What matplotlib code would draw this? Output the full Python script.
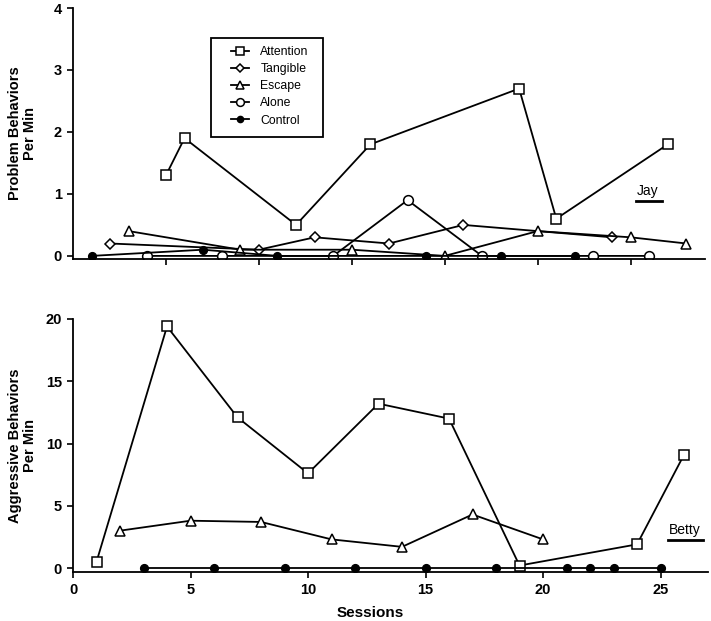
import matplotlib
matplotlib.use("Agg")
import matplotlib.pyplot as plt
from matplotlib.lines import Line2D
from matplotlib.patches import Rectangle

plt.rcParams['font.family'] = ['Liberation Sans', 'DejaVu Sans']

# ---- Jay (top panel) ----
jay_att_x = [5, 6, 12, 16, 24, 26, 32]
jay_att_y = [1.3, 1.9, 0.5, 1.8, 2.7, 0.6, 1.8]
jay_tan_x = [2, 10, 13, 17, 21, 29]
jay_tan_y = [0.2, 0.1, 0.3, 0.2, 0.5, 0.3]
jay_esc_x = [3, 9, 15, 20, 25, 30, 33]
jay_esc_y = [0.4, 0.1, 0.1, 0.0, 0.4, 0.3, 0.2]
jay_alo_x = [4, 8, 14, 18, 22, 28, 31]
jay_alo_y = [0.0, 0.0, 0.0, 0.9, 0.0, 0.0, 0.0]
jay_con_x = [1, 7, 11, 19, 23, 27]
jay_con_y = [0.0, 0.1, 0.0, 0.0, 0.0, 0.0]

# ---- Betty (bottom panel) ----
bet_att_x = [1, 4, 7, 10, 13, 16, 19, 24, 26]
bet_att_y = [0.5, 19.4, 12.1, 7.6, 13.2, 12.0, 0.2, 1.9, 9.1]
bet_esc_x = [2, 5, 8, 11, 14, 17, 20]
bet_esc_y = [3.0, 3.8, 3.7, 2.3, 1.7, 4.3, 2.3]
bet_con_x = [3, 6, 9, 12, 15, 18, 21, 22, 23, 25]
bet_con_y = [0, 0, 0, 0, 0, 0, 0, 0, 0, 0]

top_yticks = [0, 1, 2, 3, 4]
top_xticks = [5, 10, 15, 20, 25, 30]
bot_yticks = [0, 5, 10, 15, 20]
bot_xticks = [0, 5, 10, 15, 20, 25]

W, H = 711, 621
fig = plt.figure(figsize=(W / 100, H / 100), dpi=100)

ax1 = fig.add_axes([73 / W, 1 - 259 / H, 632 / W, 251 / H])
ax2 = fig.add_axes([73 / W, 1 - 572 / H, 635 / W, 253 / H])

lw = 1.3
ms = 7
common = dict(color='black', lw=lw, mec='black', mew=1.1)

ax1.plot(jay_att_x, jay_att_y, marker='s', mfc='white', ms=ms, label='Attention', **common)
ax1.plot(jay_tan_x, jay_tan_y, marker='D', mfc='white', ms=5, label='Tangible', **common)
ax1.plot(jay_esc_x, jay_esc_y, marker='^', mfc='white', ms=ms, label='Escape', **common)
ax1.plot(jay_alo_x, jay_alo_y, marker='o', mfc='white', ms=ms, label='Alone', **common)
ax1.plot(jay_con_x, jay_con_y, marker='o', mfc='black', ms=5.5, label='Control', **common)

ax2.plot(bet_att_x, bet_att_y, marker='s', mfc='white', ms=ms, **common)
ax2.plot(bet_esc_x, bet_esc_y, marker='^', mfc='white', ms=ms, **common)
ax2.plot(bet_con_x, bet_con_y, marker='o', mfc='black', ms=5.5, **common)

for ax in (ax1, ax2):
    for s in ('top', 'right'):
        ax.spines[s].set_visible(False)
    for s in ('left', 'bottom'):
        ax.spines[s].set_linewidth(1.3)
    ax.tick_params(direction='out', length=4.5, width=1.2, labelsize=10.5)

ax1.set_xlim(0, 34)
ax1.set_ylim(-0.05, 4)
ax1.set_yticks(top_yticks)
ax1.set_xticks(top_xticks)
ax1.set_xticklabels([])
ax1.set_yticklabels([str(v) for v in top_yticks], fontweight='bold')
ax1.set_ylabel('Problem Behaviors\nPer Min', fontsize=10.5, fontweight='bold', labelpad=12,
               linespacing=1.1)

ax2.set_xlim(0, 27.02)
ax2.set_ylim(-0.32, 20)
ax2.set_yticks(bot_yticks)
ax2.set_xticks(bot_xticks)
ax2.set_yticklabels([str(v) for v in bot_yticks], fontweight='bold')
ax2.set_xticklabels([str(v) for v in bot_xticks], fontweight='bold')
ax2.set_xlabel('Sessions', fontsize=11, fontweight='bold')
ax2.set_ylabel('Aggressive Behaviors\nPer Min', fontsize=10.5, fontweight='bold', labelpad=6,
               linespacing=1.1)
ax2.xaxis.set_label_coords((370 - 73) / 635, 1 - (613 - 319) / 253)
ax2.xaxis.label.set_va('center')


def ax1_xy(px, py):
    return (px - 73) / 632, 1 - (py - 8) / 251


# legend frame drawn as a rectangle, legend itself frameless
x0, y0 = ax1_xy(211, 137)
x1, y1 = ax1_xy(323, 38)
ax1.add_patch(Rectangle((x0, y0), x1 - x0, y1 - y0, transform=ax1.transAxes,
                        fill=True, facecolor='white', edgecolor='black', lw=1.3, zorder=4))
leg = ax1.legend(loc='upper left', bbox_to_anchor=ax1_xy(231, 46),
                 frameon=False, fontsize=8.8, handlelength=1.5,
                 borderpad=0, labelspacing=0.42, handletextpad=0.9, markerscale=0.8,
                 borderaxespad=0)
leg.set_zorder(5)

# Participant labels
ax1.text(*ax1_xy(648, 191), 'Jay', transform=ax1.transAxes,
         ha='center', va='center', fontsize=10)
ax1.add_line(Line2D([(636 - 73) / 632, (662 - 73) / 632], [1 - (201 - 8) / 251] * 2,
                    transform=ax1.transAxes, color='black', lw=2))
ax2.text((685 - 73) / 635, 1 - (530 - 319) / 253, 'Betty', transform=ax2.transAxes,
         ha='center', va='center', fontsize=10)
ax2.add_line(Line2D([(668 - 73) / 635, (703 - 73) / 635], [1 - (540 - 319) / 253] * 2,
                    transform=ax2.transAxes, color='black', lw=2))

fig.savefig('out.png', dpi=100)
